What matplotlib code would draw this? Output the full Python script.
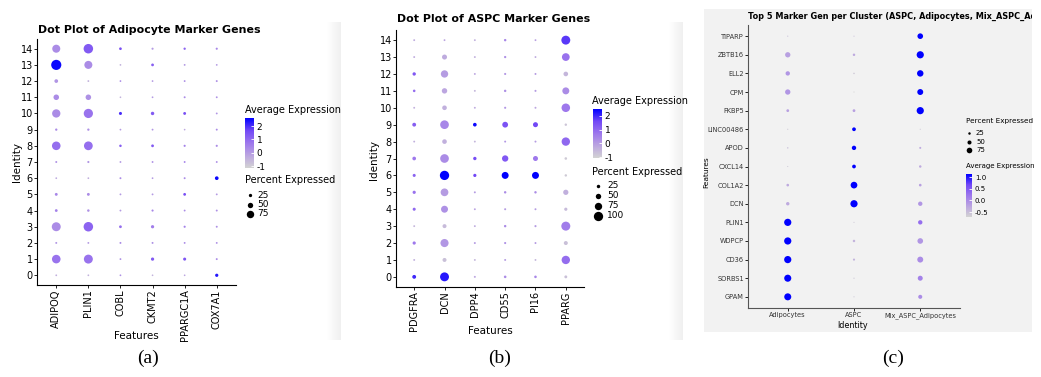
import numpy as np
import matplotlib
matplotlib.use('Agg')
import matplotlib.pyplot as plt
from matplotlib.colors import LinearSegmentedColormap
from matplotlib.patches import Rectangle
from matplotlib.transforms import Bbox

# ---- panel (a): adipocyte markers, clusters 0..14
genes_a = ['ADIPOQ', 'PLIN1', 'COBL', 'CKMT2', 'PPARGC1A', 'COX7A1']
clusters = [str(i) for i in range(15)]
pct_a = [[4, 4, 4, 3, 3, 20],
         [78, 82, 5, 20, 18, 6],
         [6, 5, 6, 6, 5, 5],
         [82, 88, 15, 20, 8, 6],
         [15, 12, 5, 8, 5, 6],
         [16, 16, 5, 5, 15, 5],
         [4, 4, 6, 4, 6, 25],
         [6, 8, 5, 5, 5, 5],
         [78, 80, 12, 15, 8, 8],
         [10, 10, 4, 5, 3, 6],
         [75, 85, 18, 22, 16, 5],
         [45, 45, 3, 4, 6, 5],
         [25, 5, 4, 4, 5, 6],
         [95, 72, 4, 15, 5, 4],
         [72, 88, 14, 8, 10, 8]]
avg_a = [[-0.4, -0.5, 0.2, -0.5, -0.2, 2.3],
         [0.8, 0.8, 0.2, 1.3, 1.4, 0.3],
         [0.1, 0.0, 0.3, 0.2, 0.3, 0.2],
         [0.3, 1.1, 0.9, 0.6, 0.5, 0.2],
         [0.5, 0.2, 0.0, 0.4, 0.3, 0.2],
         [0.4, 0.3, 0.0, 0.0, 1.5, 0.0],
         [-0.3, -0.4, 0.3, 0.0, 0.3, 2.5],
         [0.2, 0.1, 0.0, 0.2, 0.5, 0.3],
         [0.9, 0.9, 1.2, 1.3, 0.5, 0.3],
         [0.3, 0.2, 0.0, 0.1, -0.3, 0.3],
         [0.3, 0.8, 2.0, 1.3, 1.5, 0.1],
         [0.3, 0.2, -0.5, 0.0, 0.3, 0.2],
         [0.1, -0.5, 0.3, 0.0, 0.2, 0.2],
         [2.5, 0.3, -0.5, 1.2, 0.0, 0.0],
         [0.3, 1.3, 1.5, 0.0, 1.1, 0.4]]

# ---- panel (b): ASPC markers
genes_b = ['PDGFRA', 'DCN', 'DPP4', 'CD55', 'PI16', 'PPARG']
pct_b = [[30, 95, 6, 14, 14, 18],
         [5, 32, 5, 6, 5, 88],
         [22, 85, 6, 8, 6, 32],
         [5, 32, 5, 12, 8, 96],
         [20, 70, 5, 7, 6, 22],
         [22, 80, 6, 12, 12, 48],
         [20, 100, 22, 70, 70, 12],
         [28, 92, 24, 62, 45, 14],
         [5, 40, 5, 6, 6, 88],
         [30, 92, 28, 55, 45, 12],
         [5, 40, 5, 8, 6, 90],
         [14, 50, 5, 12, 7, 70],
         [24, 75, 5, 8, 6, 40],
         [5, 45, 5, 10, 5, 80],
         [5, 5, 5, 12, 5, 95]]
avg_b = [[2.0, 2.2, -0.2, 0.3, 0.4, -0.7],
         [-0.4, -0.7, -0.5, 0.0, -0.5, 0.9],
         [0.7, 0.1, 0.0, 0.2, 0.0, -0.7],
         [-0.5, -0.6, -0.3, 0.3, 0.0, 0.6],
         [1.0, 0.2, -0.1, 0.0, 0.0, -0.6],
         [0.8, 0.0, 0.0, 0.3, 0.3, -0.4],
         [1.1, 2.5, 1.6, 2.5, 2.5, -0.9],
         [0.7, 0.3, 1.5, 1.3, 0.7, -0.9],
         [-0.4, -0.4, -0.5, 0.1, 0.0, 1.0],
         [1.2, 0.4, 2.4, 1.4, 1.6, -0.8],
         [-0.4, -0.4, -0.3, 0.1, -0.2, 0.7],
         [0.9, -0.2, -0.5, 0.2, 0.0, 0.3],
         [1.3, 0.0, -0.2, 0.1, 0.0, -0.5],
         [-0.3, -0.3, -0.4, 0.2, -0.3, 0.8],
         [-0.3, -0.2, -0.4, 0.4, -0.1, 1.8]]

# ---- panel (c): top 5 markers per cluster (listed top to bottom)
groups_c = ['Adipocytes', 'ASPC', 'Mix_ASPC_Adipocytes']
genes_c = ['TIPARP', 'ZBTB16', 'ELL2', 'CPM', 'FKBP5', 'LINC00486', 'APOD', 'CXCL14',
           'COL1A2', 'DCN', 'PLIN1', 'WDPCP', 'CD36', 'SORBS1', 'GPAM']
pct_c = [[4, 3, 75], [70, 25, 100], [55, 10, 88], [70, 3, 80], [30, 30, 100],
         [4, 45, 3], [8, 55, 18], [3, 45, 25], [28, 92, 28], [40, 100, 55],
         [100, 3, 55], [100, 25, 75], [100, 20, 80], [98, 5, 65], [97, 4, 50]]
avg_c = [[-0.5, -0.5, 1.15], [-0.2, -0.3, 1.15], [-0.1, -0.6, 1.15], [-0.1, -0.7, 1.15],
         [-0.2, -0.2, 1.15], [-0.6, 1.15, -0.6], [-0.5, 1.15, -0.3], [-0.6, 1.15, -0.3],
         [-0.3, 1.15, -0.2], [-0.3, 1.15, -0.1], [1.15, -0.6, 0.3], [1.15, -0.4, -0.1],
         [1.15, -0.4, 0.0], [1.15, -0.6, 0.1], [1.15, -0.6, 0.0]]

legend_pct_a = [25, 50, 75]
legend_pct_b = [25, 50, 75, 100]
legend_pct_c = [25, 50, 75]
captions = ['(a)', '(b)', '(c)']

# lightgrey -> blue, interpolated in Lab like ggplot
cmap = LinearSegmentedColormap.from_list(
    'lg_blue', ['#D3D3D3', '#BBA5E0', '#9D77EC', '#7248F6', '#0000FF'])

W, H = 1041, 377
fig = plt.figure(figsize=(W / 100, H / 100), dpi=100)
plt.rcParams['font.family'] = 'DejaVu Sans'


def px_axes(x0, y0, x1, y1, **kw):
    return fig.add_axes([x0 / W, 1 - y1 / H, (x1 - x0) / W, (y1 - y0) / H], **kw)


def area(pct, k, b):
    d = b + k * np.asarray(pct, dtype=float)  # diameter in pixels
    return (d * 0.72) ** 2


# overlay in pixel coordinates for free text / legends
ov = px_axes(0, 0, W, H, zorder=-5)
ov.set_xlim(0, W)
ov.set_ylim(H, 0)
ov.axis('off')
# panel (c) grey background + faint screenshot edges
ov.add_patch(Rectangle((704, 9), 328, 323, color='#f2f2f2', lw=0))
for x0 in range(326, 341):
    ov.add_patch(Rectangle((x0, 22), 1, 318, color=str(1 - 0.06 * (x0 - 326) / 14), lw=0))
for x0 in range(668, 683):
    ov.add_patch(Rectangle((x0, 22), 1, 318, color=str(1 - 0.06 * (x0 - 668) / 14), lw=0))


def dotplot(ax, xlabels, ylabels, pct, avg, k, b, vmin, vmax, fs):
    pct = np.array(pct)
    avg = np.array(avg)
    ny, nx = pct.shape
    xx, yy = np.meshgrid(np.arange(nx), np.arange(ny))
    sc = ax.scatter(xx.ravel(), yy.ravel(), s=area(pct.ravel(), k, b), c=avg.ravel(),
                    cmap=cmap, vmin=vmin, vmax=vmax, linewidths=0)
    ax.set_xlim(-0.6, nx - 0.4)
    ax.set_ylim(-0.6, ny - 0.4)
    ax.set_xticks(range(nx))
    ax.set_yticks(range(ny))
    ax.set_yticklabels(ylabels)
    for s in ['top', 'right']:
        ax.spines[s].set_visible(False)
    ax.tick_params(length=2, width=0.6, labelsize=fs, pad=1)
    ax.patch.set_alpha(0)
    return sc


def colorbar(sc, x0, y0, x1, y1, ticks, labels, fs):
    cax = px_axes(x0, y0, x1, y1)
    cb = fig.colorbar(sc, cax=cax, ticks=ticks)
    cb.outline.set_visible(False)
    cb.ax.set_yticklabels(labels)
    cb.ax.tick_params(length=2, width=0.6, color='white', direction='in', labelsize=fs, pad=2)


# ---------------- (a)
ka, ba = 0.092, 1.4
ax = px_axes(37, 39, 236, 285)
sc_a = dotplot(ax, genes_a, clusters, pct_a, avg_a, ka, ba, -1.15, 2.6, 7)
ax.set_xticklabels(genes_a, rotation=90)
ov.text(38, 30, 'Dot Plot of Adipocyte Marker Genes', fontsize=7.9, fontweight='bold',
        va='center')
ov.text(136, 336, 'Features', fontsize=7.5, ha='center', va='center')
ov.text(17, 162, 'Identity', fontsize=7.5, ha='center', va='center', rotation=90)
ov.text(245, 110, 'Average Expression', fontsize=7, va='center')
colorbar(sc_a, 245, 118, 254, 168, [-1, 0, 1, 2], ['-1', '0', '1', '2'], 6.5)
ov.text(245, 180, 'Percent Expressed', fontsize=7, va='center')
for i, p in enumerate(legend_pct_a):
    ov.scatter(250, 195 + 9.5 * i, s=area(p, ka, ba) * 0.8, color='black', lw=0)
    ov.text(257, 195 + 9.5 * i, str(p), fontsize=6.5, va='center')

# ---------------- (b)
kb, bb = 0.078, 1.5
ax = px_axes(396, 30, 584, 287)
sc_b = dotplot(ax, genes_b, clusters, pct_b, avg_b, kb, bb, -1.07, 2.5, 7)
ax.set_xticklabels(genes_b, rotation=90)
ov.text(397, 19, 'Dot Plot of ASPC Marker Genes', fontsize=7.9, fontweight='bold',
        va='center')
ov.text(490, 331, 'Features', fontsize=7.5, ha='center', va='center')
ov.text(374, 160, 'Identity', fontsize=7.5, ha='center', va='center', rotation=90)
ov.text(592, 101, 'Average Expression', fontsize=7, va='center')
colorbar(sc_b, 593, 109, 602, 158, [-1, 0, 1, 2], ['-1', '0', '1', '2'], 6.5)
ov.text(592, 172, 'Percent Expressed', fontsize=7, va='center')
for i, p in enumerate(legend_pct_b):
    ov.scatter(598, 186 + 10 * i, s=area(p, kb, bb), color='black', lw=0)
    ov.text(607, 186 + 10 * i, str(p), fontsize=6.5, va='center')

# ---------------- (c)
kc, bc = 0.063, 0.9
ax = px_axes(748, 25, 960, 308)
sc_c = dotplot(ax, groups_c, genes_c[::-1], np.array(pct_c)[::-1], np.array(avg_c)[::-1],
               kc, bc, -0.71, 1.13, 5)
ax.set_xticklabels(groups_c)
for t in ax.get_xticklabels() + ax.get_yticklabels():
    t.set_color('#333333')
ax.tick_params(labelsize=4.8)
for s in ['left', 'bottom']:
    ax.spines[s].set_color('#555555')
tt = ov.text(748, 16, 'Top 5 Marker Gen per Cluster (ASPC, Adipocytes, Mix_ASPC_Adipocytes)',
             fontsize=5.9, fontweight='bold', va='center')
tt.set_clip_box(fig.transFigure.transform_bbox(Bbox([[704 / W, 0], [1032 / W, 1]])))
tt.set_clip_on(True)
ov.text(853, 326, 'Identity', fontsize=5.8, ha='center', va='center')
ov.text(706, 172, 'Features', fontsize=5.3, ha='center', va='center', rotation=90)
ov.text(966, 121, 'Percent Expressed', fontsize=5.2, va='center')
for i, p in enumerate(legend_pct_c):
    ov.scatter(969, 133 + 8.5 * i, s=area(p, kc, bc), color='black', lw=0)
    ov.text(976, 133 + 8.5 * i, str(p), fontsize=5, va='center')
ov.text(966, 166, 'Average Expression', fontsize=5.0, va='center')
colorbar(sc_c, 966, 174, 972, 217, [-0.5, 0.0, 0.5, 1.0], ['-0.5', '0.0', '0.5', '1.0'], 5)

# captions
for x, cap in zip([148, 500, 893], captions):
    ov.text(x, 358, cap, fontsize=14, ha='center', va='center', family='Liberation Serif')

fig.savefig('out.png', dpi=100)
